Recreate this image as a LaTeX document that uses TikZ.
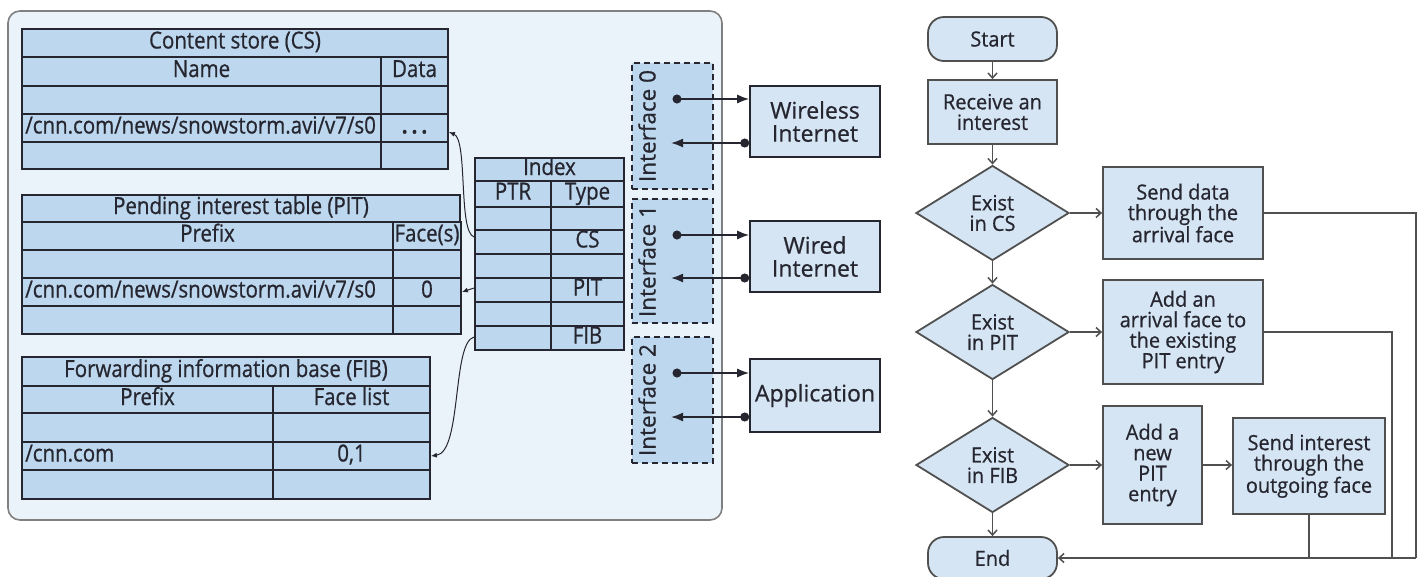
\documentclass[tikz,border=0pt]{standalone}
\usepackage{fontspec}
\setmainfont{Open Sans}[FakeBold=0.7]
\newfontfamily\tabfamily{Open Sans}[FakeStretch=0.87, FakeBold=0.7]
\newfontfamily\flowfamily{Open Sans}[FakeStretch=0.95, FakeBold=0.7]
\usetikzlibrary{arrows.meta,shapes.geometric}

\definecolor{panel}{HTML}{EAF2FA}
\definecolor{panelrim}{HTML}{808080}
\definecolor{cellblue}{HTML}{BDD8EE}
\definecolor{boxblue}{HTML}{D5E5F4}
\definecolor{ink}{HTML}{262630}
\definecolor{flowline}{HTML}{505050}

\newcommand\tabfont{\tabfamily\fontsize{23.5}{25}\selectfont}
\newcommand\labfont{\fontsize{22.5}{24}\selectfont}
\newcommand\extfont{\fontsize{23}{23}\selectfont}
\newcommand\flowfont{\flowfamily\fontsize{21}{20.5}\selectfont}
\newcommand\moredots{\textbf{.\hspace{4pt}.\hspace{4pt}.}}

% table cell: name, x1, y1, x2, y2, text
\newcommand\tcell[6]{%
  \node[cell, minimum width={(#4-#2)*1pt}, minimum height={(#5-#3)*1pt}]
    (#1) at ({(#2+#4)/2},{(#3+#5)/2}) {#6};}

\tikzset{
  cell/.style={draw=ink, line width=1.8pt, fill=cellblue, inner sep=0pt,
    text=ink, font=\tabfont, text height=15pt, text depth=4pt},
  celltext/.style={inner sep=0pt, text=ink, font=\tabfont, anchor=base west},
  iface/.style={draw=ink, line width=1.6pt, dash pattern=on 6pt off 4pt, fill=cellblue},
  ifacelabel/.style={rotate=90, inner sep=0pt, text=ink, font=\labfont},
  ext/.style={draw=ink, line width=1.6pt, fill=boxblue, inner sep=0pt, align=center,
    text=ink, font=\extfont},
  portlink/.style={draw=ink, line width=1.6pt,
    {Circle[length=9pt]}-{Latex[length=12pt,width=9pt]}},
  ptrlink/.style={draw=ink, line width=1pt, -{Latex[length=6pt,width=5pt]}},
  fbox/.style={draw=flowline, line width=1.8pt, fill=boxblue, inner sep=0pt,
    align=center, text=ink, font=\flowfont},
  term/.style={fbox, rounded corners=16pt},
  decision/.style={fbox, diamond, aspect=1.6, minimum width=153pt, minimum height=95pt},
  flow/.style={draw=flowline, line width=1.5pt, -{Straight Barb[length=5pt,width=9pt]}},
  rail/.style={draw=flowline, line width=1.5pt},
}

\begin{document}
\begin{tikzpicture}[x=1pt,y=-1pt]
\useasboundingbox (0,0) rectangle (1420,576);

% router panel
\draw[draw=panelrim, line width=1.6pt, fill=panel, rounded corners=12pt] (8,11) rectangle (722,520);

% content store
\tcell{cs-title}{22}{29}{448}{57}{Content store (CS)}
\tcell{cs-name}{22}{57}{381}{86}{Name}
\tcell{cs-data}{381}{57}{448}{86}{Data}
\tcell{cs-n1}{22}{86}{381}{114}{}
\tcell{cs-d1}{381}{86}{448}{114}{}
\tcell{cs-n2}{22}{114}{381}{142}{}
\tcell{cs-d2}{381}{114}{448}{142}{\moredots}
\tcell{cs-n3}{22}{142}{381}{169}{}
\tcell{cs-d3}{381}{142}{448}{169}{}
\node[celltext] (cs-entry) at ([xshift=4pt,yshift=-5.5pt]cs-n2.west) {/cnn.com/news/snowstorm.avi/v7/s0};

% pending interest table
\tcell{pit-title}{22}{195}{460}{222}{Pending interest table (PIT)}
\tcell{pit-prefix}{22}{222}{393}{250}{Prefix}
\tcell{pit-face}{393}{222}{461}{250}{Face(s)}
\tcell{pit-p1}{22}{250}{393}{278}{}
\tcell{pit-f1}{393}{250}{461}{278}{}
\tcell{pit-p2}{22}{278}{393}{306}{}
\tcell{pit-f2}{393}{278}{461}{306}{0}
\tcell{pit-p3}{22}{306}{393}{334}{}
\tcell{pit-f3}{393}{306}{461}{334}{}
\node[celltext] (pit-entry) at ([xshift=4pt,yshift=-5.5pt]pit-p2.west) {/cnn.com/news/snowstorm.avi/v7/s0};

% forwarding information base
\tcell{fib-title}{22}{357}{430}{386}{Forwarding information base (FIB)}
\tcell{fib-prefix}{22}{386}{273}{413}{Prefix}
\tcell{fib-faces}{273}{386}{430}{413}{Face list}
\tcell{fib-p1}{22}{413}{273}{442}{}
\tcell{fib-f1}{273}{413}{430}{442}{}
\tcell{fib-p2}{22}{442}{273}{470}{}
\tcell{fib-f2}{273}{442}{430}{470}{0,1}
\tcell{fib-p3}{22}{470}{273}{499}{}
\tcell{fib-f3}{273}{470}{430}{499}{}
\node[celltext] (fib-entry) at ([xshift=4pt,yshift=-5.5pt]fib-p2.west) {/cnn.com};

% index
\tcell{ix-title}{475}{158}{624}{181}{Index}
\tcell{ix-ptr}{475}{181}{551}{207}{PTR}
\tcell{ix-type}{551}{181}{624}{207}{Type}
\tcell{ix-p1}{475}{207}{551}{230}{}
\tcell{ix-t1}{551}{207}{624}{230}{}
\tcell{ix-p2}{475}{230}{551}{254}{}
\tcell{ix-t2}{551}{230}{624}{254}{CS}
\tcell{ix-p3}{475}{254}{551}{278}{}
\tcell{ix-t3}{551}{254}{624}{278}{}
\tcell{ix-p4}{475}{278}{551}{302}{}
\tcell{ix-t4}{551}{278}{624}{302}{PIT}
\tcell{ix-p5}{475}{302}{551}{326}{}
\tcell{ix-t5}{551}{302}{624}{326}{}
\tcell{ix-p6}{475}{326}{551}{350}{}
\tcell{ix-t6}{551}{326}{624}{350}{FIB}

% index pointers into the tables
\draw[ptrlink] ([yshift=5pt]ix-p2.west) .. controls (458,232) and (468,140) .. ([yshift=-4pt]cs-d2.east);
\draw[ptrlink] ([yshift=2pt]ix-p4.west) -- (pit-f2.east);
\draw[ptrlink] ([yshift=1pt]ix-p6.west) .. controls (452,342) and (462,452) .. (fib-f2.east);

% interfaces
\node[iface, minimum width=81pt, minimum height=126pt] (if0) at (672.5,126) {};
\node[iface, minimum width=81pt, minimum height=124pt] (if1) at (672.5,261) {};
\node[iface, minimum width=81pt, minimum height=126pt] (if2) at (672.5,400) {};
\node[ifacelabel] (if0-label) at (647,126) {Interface 0};
\node[ifacelabel] (if1-label) at (647,261) {Interface 1};
\node[ifacelabel] (if2-label) at (647,400) {Interface 2};

% attached networks
\node[ext, minimum width=130pt, minimum height=71pt] (wireless) at (815,121.5) {Wireless\\Internet};
\node[ext, minimum width=130pt, minimum height=71pt] (wired) at (815,256.5) {Wired\\Internet};
\node[ext, minimum width=130pt, minimum height=73pt] (app) at (815,395.5) {Application};

\coordinate (if0-out) at (672.5,99);
\coordinate (if0-in) at (671,143);
\coordinate (if1-out) at (672.5,235);
\coordinate (if1-in) at (671,278);
\coordinate (if2-out) at (672.5,373);
\coordinate (if2-in) at (671,417);
\draw[portlink] (if0-out) -- (wireless.west |- if0-out);
\draw[portlink] (wireless.west |- if0-in) -- (if0-in);
\draw[portlink] (if1-out) -- (wired.west |- if1-out);
\draw[portlink] (wired.west |- if1-in) -- (if1-in);
\draw[portlink] (if2-out) -- (app.west |- if2-out);
\draw[portlink] (app.west |- if2-in) -- (if2-in);

% interest processing flow
\node[term, minimum width=129pt, minimum height=44pt] (start) at (992.5,39) {Start};
\node[fbox, minimum width=129pt, minimum height=64pt] (recv) at (992.5,112) {Receive an\\interest};
\node[decision] (dcs) at (992.5,213) {Exist\\in CS};
\node[fbox, minimum width=160pt, minimum height=92pt] (senddata) at (1183,213) {Send data\\through the\\arrival face};
\node[decision] (dpit) at (992.5,332) {Exist\\in PIT};
\node[fbox, minimum width=160pt, minimum height=104pt] (addface) at (1183,332) {Add an\\arrival face to\\the existing\\PIT entry};
\node[decision] (dfib) at (992.5,465) {Exist\\in FIB};
\node[fbox, minimum width=99pt, minimum height=118pt] (addpit) at (1152.5,465) {Add a\\new\\PIT\\entry};
\node[fbox, minimum width=152pt, minimum height=96pt] (sendint) at (1309,466) {Send interest\\through the\\outgoing face};
\node[term, minimum width=129pt, minimum height=42pt] (end) at (992.5,558) {End};

\draw[flow] (start) -- (recv);
\draw[flow] (recv) -- (dcs);
\draw[flow] (dcs) -- (dpit);
\draw[flow] (dpit) -- (dfib);
\draw[flow] (dfib) -- (end);
\draw[flow] (dcs) -- (senddata);
\draw[flow] (dpit) -- (addface);
\draw[flow] (dfib) -- (addpit);
\draw[flow] (addpit.east) -- (sendint.west |- addpit.east);

\coordinate (rail-cs) at (1416,558);
\coordinate (rail-pit) at (1392,558);
\draw[rail] (senddata.east) -| (rail-cs);
\draw[rail] (addface.east) -| (rail-pit);
\draw[rail] (sendint.south) -- (sendint.south |- end.east);
\draw[flow] (rail-cs) -- (end.east);
\end{tikzpicture}
\end{document}
